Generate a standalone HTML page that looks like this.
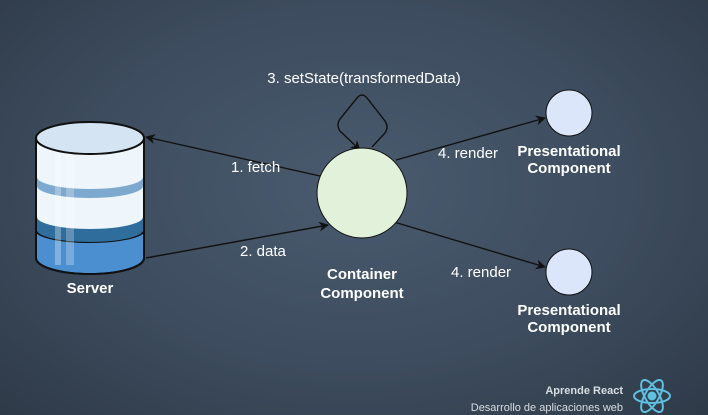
<!DOCTYPE html>
<html><head><style>
html,body{margin:0;padding:0;}
body{width:708px;height:415px;overflow:hidden;background:radial-gradient(ellipse at 50% 45%,#4a5b6f 0%,#3d4c5e 55%,#2e3a48 100%);font-family:"Liberation Sans",sans-serif;}
</style></head><body>
<svg width="708" height="415" xmlns="http://www.w3.org/2000/svg" style="position:absolute;left:0;top:0">
<defs>
<marker id="ah" markerWidth="10" markerHeight="10" refX="9" refY="5" orient="auto" markerUnits="userSpaceOnUse">
<path d="M0,0 L10,5 L0,10 L3,5 z" fill="#111"/></marker>
</defs>
<g stroke="#111" stroke-width="2">
<path d="M36,230 L36,258 A54,16 0 0 0 144,258 L144,230 Z" fill="#4b8fd0"/>
<path d="M36,138 L36,230 A54,12 0 0 0 144,230 L144,138 Z" fill="#eef6fc"/>
</g>
<path d="M37,217 A53,12 0 0 0 143,217 L143,230 A53,12 0 0 1 37,230 Z" fill="#2f6d9c"/>
<path d="M37,177 A53,12 0 0 0 143,177 L143,186 A53,12 0 0 1 37,186 Z" fill="#7ea9cf"/>
<rect x="55" y="150" width="6" height="115" fill="#ffffff" opacity="0.3"/>
<rect x="66" y="150" width="8" height="115" fill="#ffffff" opacity="0.25"/>
<path d="M36,138 L36,258 A54,16 0 0 0 144,258 L144,138" fill="none" stroke="#111" stroke-width="2"/>
<ellipse cx="90" cy="138" rx="54" ry="16" fill="#d4e4f3" stroke="#111" stroke-width="2"/>
<g stroke="#111" stroke-width="1.4" fill="none">
<line x1="320" y1="176" x2="146" y2="137" marker-end="url(#ah)"/>
<line x1="146" y1="258" x2="328" y2="225" marker-end="url(#ah)"/>
<line x1="396" y1="160" x2="545" y2="118" marker-end="url(#ah)"/>
<line x1="394" y1="222" x2="545" y2="267" marker-end="url(#ah)"/>
<path d="M372,147 L385,133 Q389,127 385,121 L367,98 Q362,92 357,98 L340,119 Q336,125 340,131 L360,150" marker-end="url(#ah)"/>
</g>
<circle cx="362" cy="193" r="45" fill="#e2f1da" stroke="#111" stroke-width="1"/>
<circle cx="569" cy="113" r="23" fill="#dbe6fb" stroke="#111" stroke-width="1"/>
<circle cx="569" cy="272" r="23" fill="#dbe6fb" stroke="#111" stroke-width="1"/>
<g fill="#fff" font-family="Liberation Sans, sans-serif" font-size="15">
<text x="364" y="83" text-anchor="middle">3. setState(transformedData)</text>
<text x="231" y="172">1. fetch</text>
<text x="240" y="256">2. data</text>
<text x="438" y="158">4. render</text>
<text x="451" y="277">4. render</text>
</g>
<g fill="#fff" font-family="Liberation Sans, sans-serif" font-size="15" font-weight="bold" text-anchor="middle">
<text x="569" y="156">Presentational</text>
<text x="569" y="173">Component</text>
<text x="569" y="315">Presentational</text>
<text x="569" y="332">Component</text>
<text x="362" y="279">Container</text>
<text x="362" y="298">Component</text>
<text x="90" y="293">Server</text>
</g>
<g font-family="Liberation Sans, sans-serif" text-anchor="end">
<text x="623" y="394" font-size="11" font-weight="bold" fill="#d8dde3">Aprende React</text>
<text x="623" y="411" font-size="11" fill="#d8dde3">Desarrollo de aplicaciones web</text>
</g>
<g stroke="#5fc0e0" stroke-width="2" fill="none" transform="translate(652,396)">
<ellipse rx="18" ry="7"/>
<ellipse rx="18" ry="7" transform="rotate(60)"/>
<ellipse rx="18" ry="7" transform="rotate(120)"/>
<circle r="3.5" fill="#5fc0e0"/>
</g>
</svg>
</body></html>
